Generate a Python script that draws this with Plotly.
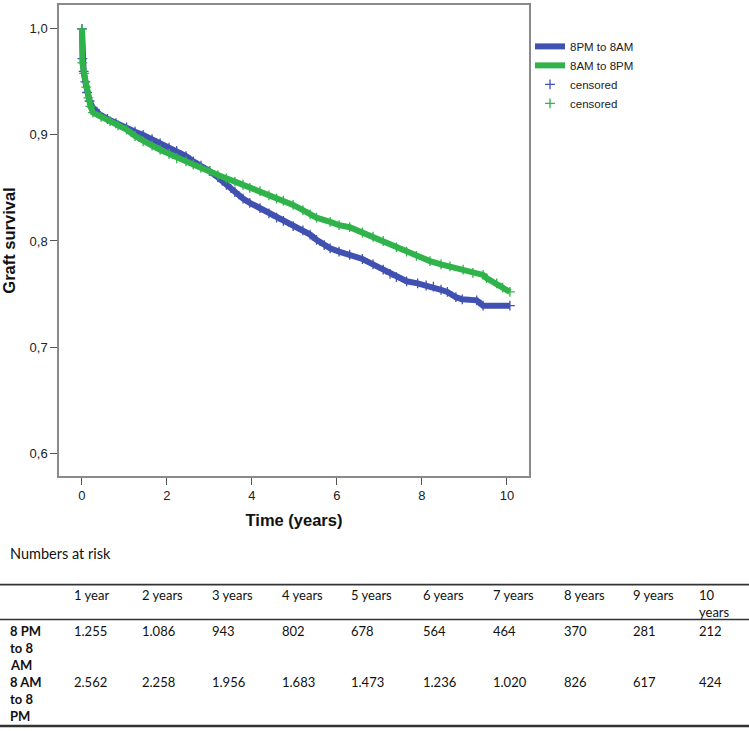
import plotly.graph_objects as go

# ---------------- data ----------------
t_night = [0, 0.01, 0.04, 0.08, 0.12, 0.18, 0.25, 0.4, 0.6, 0.8, 1.05, 1.25, 1.44, 1.65, 1.84,
           2.05, 2.23, 2.45, 2.62, 2.8, 3.0, 3.2, 3.4, 3.6, 3.79, 3.95, 4.19, 4.4, 4.58, 4.74,
           4.97, 5.2, 5.37, 5.52, 5.7, 5.84, 6.05, 6.3, 6.6, 6.85, 7.09, 7.25, 7.4, 7.64, 7.9,
           8.1, 8.27, 8.45, 8.6, 8.8, 8.95, 9.29, 9.44, 10.07]
s_night = [1.0, 0.972, 0.960, 0.950, 0.940, 0.932, 0.926, 0.920, 0.915, 0.911, 0.907, 0.903, 0.900,
           0.896, 0.892, 0.888, 0.885, 0.880, 0.875, 0.871, 0.866, 0.860, 0.853, 0.846, 0.840,
           0.836, 0.831, 0.826, 0.822, 0.819, 0.814, 0.810, 0.806, 0.801, 0.796, 0.793, 0.790,
           0.787, 0.783, 0.778, 0.773, 0.769, 0.766, 0.762, 0.760, 0.758, 0.757, 0.754, 0.752,
           0.747, 0.745, 0.744, 0.739, 0.739]

t_day = [0, 0.01, 0.05, 0.1, 0.15, 0.2, 0.26, 0.45, 0.66, 0.85, 1.05, 1.25, 1.44, 1.65, 1.84,
         2.05, 2.23, 2.45, 2.62, 2.8, 3.01, 3.2, 3.4, 3.6, 3.79, 3.95, 4.19, 4.4, 4.58, 4.74,
         4.97, 5.2, 5.37, 5.52, 5.84, 6.05, 6.3, 6.6, 6.85, 7.09, 7.4, 7.64, 7.87, 8.19, 8.45,
         8.66, 8.97, 9.2, 9.44, 9.52, 9.76, 9.9, 10.07]
s_day = [1.0, 0.968, 0.958, 0.945, 0.935, 0.927, 0.921, 0.917, 0.913, 0.909, 0.905, 0.899, 0.894,
         0.890, 0.886, 0.882, 0.878, 0.875, 0.872, 0.869, 0.866, 0.862, 0.859, 0.856, 0.853,
         0.850, 0.847, 0.843, 0.840, 0.838, 0.834, 0.829, 0.825, 0.822, 0.818, 0.815, 0.813,
         0.808, 0.804, 0.800, 0.794, 0.790, 0.786, 0.781, 0.778, 0.776, 0.773, 0.770, 0.768,
         0.765, 0.760, 0.756, 0.752]

risk_headers = [["1 year"], ["2 years"], ["3 years"], ["4 years"], ["5 years"], ["6 years"],
                ["7 years"], ["8 years"], ["9 years"], ["10", "years"]]
risk_groups = [["8 PM", "to 8", "AM"], ["8 AM", "to 8", "PM"]]
risk_night = ["1.255", "1.086", "943", "802", "678", "564", "464", "370", "281", "212"]
risk_day = ["2.562", "2.258", "1.956", "1.683", "1.473", "1.236", "1.020", "826", "617", "424"]

# ---------------- styling ----------------
BLUE = "#4051b2"
GREEN = "#30b34b"
W, H = 749, 731
PL, PR, PT, PB = 59, 529, 3, 476   # plot-area pixel box


def px_x(px):
    return (px - PL) / (PR - PL)


def px_y(py):
    return (PB - py) / (PB - PT)


fig = go.Figure()

fig.add_trace(go.Scatter(x=t_night, y=s_night, mode="lines", line_shape="linear",
                         line=dict(color=BLUE, width=6), name="8PM to 8AM",
                         legendrank=1))
fig.add_trace(go.Scatter(x=t_night, y=s_night, mode="markers", name="censored",
                         marker=dict(symbol="cross-thin", size=7,
                                     line=dict(color=BLUE, width=1.3)),
                         legendrank=3))
fig.add_trace(go.Scatter(x=t_day, y=s_day, mode="lines", line_shape="linear",
                         line=dict(color=GREEN, width=6), name="8AM to 8PM",
                         legendrank=2))
fig.add_trace(go.Scatter(x=t_day, y=s_day, mode="markers", name="censored",
                         marker=dict(symbol="cross-thin", size=7,
                                     line=dict(color=GREEN, width=1.3)),
                         legendrank=4))

axis_common = dict(showline=True, linecolor="#8a8a8a", linewidth=1.5, mirror=True,
                   ticks="outside", ticklen=7, tickcolor="#555", tickwidth=1.2,
                   showgrid=False, zeroline=False,
                   tickfont=dict(family="Arial, Liberation Sans", size=13, color="#222"))

title_font = dict(family="Arial, Liberation Sans", size=16.5, color="#111")
fig.update_xaxes(range=[-0.54, 10.52], tickvals=[0, 2, 4, 6, 8, 10],
                 title=dict(text="<b>Time (years)</b>", standoff=12, font=title_font),
                 **axis_common)
fig.update_yaxes(range=[0.5784, 1.0225], tickvals=[0.6, 0.7, 0.8, 0.9, 1.0], tickformat=".1f",
                 title=dict(text="<b>Graft survival</b>", standoff=14, font=title_font),
                 **axis_common)

# ---------------- numbers-at-risk table ----------------
tfont = dict(family="Lato, Open Sans", size=13, color="#111")
ann = []


def put(text, xpx, ypx, font):
    ann.append(dict(text=text, x=px_x(xpx), y=px_y(ypx), xref="paper", yref="paper",
                    xanchor="left", yanchor="middle", showarrow=False, font=font))


put("Numbers at risk", 8, 554, dict(family="Lato, Open Sans", size=14.5, color="#111"))
col_x = [72, 140, 210, 280, 349, 421, 491, 562, 631, 697]
line_step = 17
for cx, h in zip(col_x, risk_headers):
    for k, part in enumerate(h):
        put(part, cx, 596 + k * line_step, tfont)
row_y = [632, 683]
for ry, g, vals in zip(row_y, risk_groups, [risk_night, risk_day]):
    for k, part in enumerate(g):
        put("<b>" + part + "</b>", 8, ry + k * line_step, tfont)
    for cx, v in zip(col_x, vals):
        put(v, cx, ry, tfont)

shapes = []
for ly, lw in [(585, 1.8), (620, 1.5), (727, 2.4)]:
    shapes.append(dict(type="line", xref="paper", yref="paper",
                       x0=px_x(0), x1=px_x(W), y0=px_y(ly), y1=px_y(ly),
                       line=dict(color="#333", width=lw)))

fig.update_layout(
    width=W, height=H,
    margin=dict(l=PL, r=W - PR, t=PT, b=H - PB, pad=0),
    paper_bgcolor="white", plot_bgcolor="white",
    separators=",.",
    showlegend=True,
    legend=dict(x=px_x(530), y=px_y(30), xanchor="left", yanchor="top",
                font=dict(family="Arial, Liberation Sans", size=11.5, color="#222"),
                tracegroupgap=0, itemwidth=30, bgcolor="rgba(0,0,0,0)"),
    annotations=ann, shapes=shapes,
)

fig.write_html("out.html", config={"displayModeBar": False},
               post_script="document.body.style.margin='0';")
